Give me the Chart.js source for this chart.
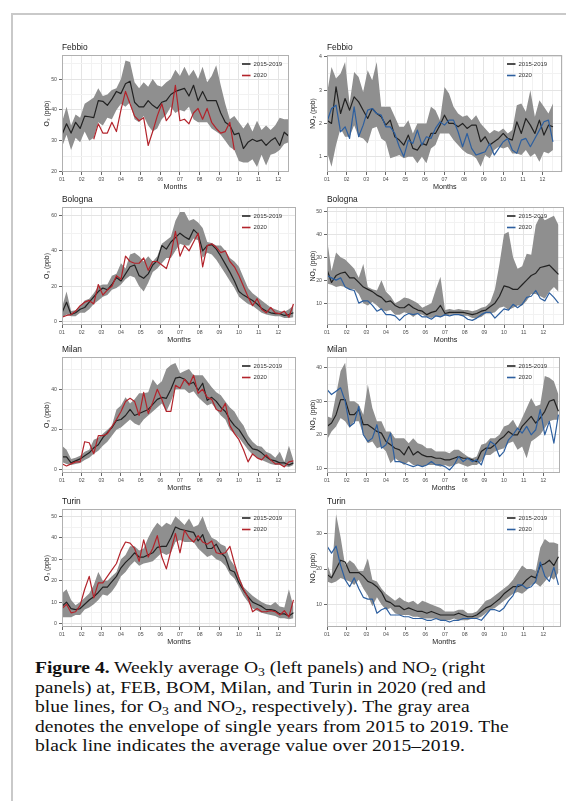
<!DOCTYPE html>
<html><head><meta charset="utf-8">
<script src="https://cdn.jsdelivr.net/npm/chart.js@4.4.0/dist/chart.umd.min.js"></script>
<style>
html,body{margin:0;padding:0;background:#fff;}
body{width:566px;height:802px;position:relative;overflow:hidden;}
.frame{position:absolute;left:11px;top:13px;width:570px;height:786px;border-top:2px solid #c9c9c9;border-left:2px solid #c9c9c9;}
.pan{position:absolute;}
#cap{position:absolute;left:35px;top:658px;font-family:'Liberation Serif','Times New Roman',serif;font-size:17px;line-height:19.5px;color:#111;white-space:nowrap;transform-origin:0 0;transform:scaleX(1.15);}
#cap sub{font-size:0.7em;line-height:0;vertical-align:-0.25em;}
</style></head><body>
<div class="frame"></div>
<div id="cap">
<div><b>Figure 4.</b> Weekly average O<sub>3</sub> (left panels) and NO<sub>2</sub> (right</div>
<div>panels) at, FEB, BOM, Milan, and Turin in 2020 (red and</div>
<div>blue lines, for O<sub>3</sub> and NO<sub>2</sub>, respectively). The gray area</div>
<div>denotes the envelope of single years from 2015 to 2019. The</div>
<div>black line indicates the average value over 2015–2019.</div>
</div>
<script>
// ---------- categories / tick labels ----------
const WEEKS = [1,2,3,4,5,6,7,8,9,10,11,12,13,14,15,16,17,18,19,20,21,22,23,24,25,26,27,28,29,30,31,32,33,34,35,36,37,38,39,40,41,42,43,44,45,46,47,48,49,50,51,52,53];
const MONTH_LABELS = ['01','02','03','04','05','06','07','08','09','10','11','12'];
const SERIES_LABELS = ['2015-2019','2020'];

// ---------- Febbio O3 ----------
const febO3_hi  = [36,41,35,38.5,37.5,42,43,44,47,44.5,45,46.5,47,50,56,55.5,49,47,49,47.5,50,48,47.5,49,50,53,51,54,51,53,50,54,49,51,54.5,48,42,37,38,36,34,36,33,36.5,33.5,35,33.5,35,37.5,37,37];
const febO3_lo  = [28,32,27,31,29.5,33,30,31,36,35,37.5,37,40,42,41,42.5,37,36,38,35,33,34,37,38.5,41,39,40,39.5,41,37,36,36,36,34,33,32,30,28,27,23.5,23,23,24,21.5,25.5,22,25.5,26,27,29,29.5];
const febO3_avg = [32,35.5,32.5,36,34,38,37.8,37.5,43,42.8,41.5,43.5,46,45.3,48.5,49.3,42.5,41,41,43,41.5,40.5,42.5,43,45,46,46.5,47,44.5,48,43,46,43,43,43,39,36,35,32,32.5,27.5,29.5,30.5,29.8,30.3,28.5,30,31,28.5,32.8,31.5];
const febO3_2020 = [null,null,null,null,null,null,null,30.5,35.5,32.5,32.5,36,33,40,46,42,38,36.5,37.5,28.5,33,38,42,36.5,38.5,48,36.5,37,35.5,39,40.5,37,40.5,36,34,32.5,33,36,27,null,null,null,null,null,null,null,null,null,null,null,null];

// ---------- Febbio NO2 ----------
const febNO2_hi  = [2.9,3.7,3.35,3.5,3.85,2.6,3.55,3.4,2.95,3.6,3.3,3.85,2.5,2.5,2.5,2.2,1.9,1.9,2.1,1.7,2.0,2.0,2.0,2.5,2.4,2.1,3.1,2.9,2.5,2.3,2.2,2.25,2.1,2.25,2.0,1.85,1.7,1.8,1.75,1.85,1.7,1.8,2.55,2.6,2.35,3.0,2.2,2.7,2.5,2.3,2.6];
const febNO2_lo  = [1.15,0.7,1.35,1.85,1.6,1.6,1.95,1.6,1.55,1.4,1.85,1.9,1.55,1.45,0.95,1.0,1.05,0.95,1.0,1.0,0.8,1.0,0.8,1.25,1.35,1.7,1.7,1.7,1.5,1.35,1.2,1.1,1.05,0.95,0.7,1.05,0.95,1.2,1.3,1.25,1.3,1.1,1.1,1.05,1.2,1.0,1.1,0.85,1.15,1.1,1.2];
const febNO2_avg = [2.1,2.0,3.1,2.3,2.75,2.4,2.8,2.65,2.4,2.15,2.45,2.3,2.2,1.95,2.1,1.6,1.5,1.35,1.65,1.25,1.2,1.4,1.35,1.7,1.7,1.95,2.25,2.0,2.0,1.9,2.0,1.85,1.95,1.95,1.45,1.6,1.35,1.45,1.55,1.7,1.55,1.5,2.05,1.7,2.15,1.95,1.7,2.1,1.65,1.95,1.9];
const febNO2_2020 = [2.05,2.45,2.55,1.75,1.9,1.55,2.5,1.6,1.95,2.4,2.45,2.3,2.25,1.9,1.9,1.7,1.3,1.0,1.5,1.4,1.8,1.35,1.6,1.55,1.85,2.05,1.95,2.1,2.1,1.75,1.3,1.7,1.25,1.05,1.1,1.15,1.4,1.05,1.25,1.45,1.55,1.2,1.1,1.5,1.55,1.3,1.55,1.8,2.05,2.1,1.45];

// ---------- Bologna O3 ----------
const bolO3_hi  = [8,17,6,6.5,9,12,13,16,20,21,21,26,27,33,30,38,39,37,34,37,34,37,44,46,48,57,62,62,57,58,56,53,45,44.5,43,43,40,36,34,31,25,19,16,14,12,10,8,7,6,5.5,7,9];
const bolO3_lo  = [2,4,3,3,5,5,7,10,12,14,15,18,19,21,24,26,25,20,17,22,28,30,33,36,36,40,44,43,43,47,46,36,39,38,35,31,27,23,19,14,12,10,9,7,5,4,3.5,3,3,2,2,2.5];
const bolO3_avg = [5,11,4,5,7,8,11,14,17,19,18,21,25,23,27,31,32,26,24.5,27,32,34.5,43,41,45,47.5,50,48,46.5,52,49.5,40,43,43.5,41,37,32.5,28,23,17,15,13.5,12,10,7.5,6,5,4.5,4.5,3.5,4,5];
const bolO3_2020 = [2.5,3.5,4,6,9,11,12,10,21,15,18,20,26,24,37,34,33,33,36,29,34,34,32,30,38,51,37,43,40,45,50,31,43,44,42,39,40,34,31,26,20,14,9,13,7,5,8,5,4.5,6,2.5,10];

// ---------- Bologna NO2 ----------
const bolNO2_hi  = [38,24,32,30,29,27,25,21,27,17,16,15.5,20,15,13,10,11,12.5,12,11,10,8,9,10,16,21.5,7,7.5,7,7.5,7,7,6.5,7,8,8.5,10.5,16,27,40,41,30,25,26,31.5,31,44,48,46,47,48,44];
const bolNO2_lo  = [18.5,18,17,17.5,17,16,16,14,10,9,10.5,9,7,6.5,7,5,5,6,5.5,4,5.5,5,4,3.5,4.5,4,4.5,5,5,5,4.5,4.5,3.5,3.5,4,5.5,5.5,6,8,8.5,7,8,9,9,11,14,14,13,12,15,17,15];
const bolNO2_avg = [24.5,19,22,23,23.5,21,21,19,17,16,15,13.5,12.5,10.5,11,9,8,8,9.5,8,7,6.5,5,6,6.5,9,5.5,6,6,6,6,5.5,5,5.5,6.5,7,8.5,10,13,17.5,17,16,16,18,20,22,23,25.5,26,26.5,24.5,22.5];
const bolNO2_2020 = [22,21,20,21,17,16,15.5,10,11,11,9,6.5,7.5,5,5,4.5,2.5,4.5,5.5,5,5.5,4,4,3,4.5,4,5,4.5,5,5,4.5,3,2.5,3.5,5,6,6,3.5,5.5,7.5,7,9.5,8,9.5,12.5,13,15.5,12,11,14.5,12.5,10];

// ---------- Milan O3 ----------
const milO3_hi  = [12,10,5.5,6,7,9,10,15,16,18,20,22,30,32,36,33,35,38,38,38.5,45,42,44,50,52,53,48,49,50,47,47,47,44,41,38.5,37,34,31,29,25,22,17,14,12,11.5,9,8,6,9,4,12,5];
const milO3_lo  = [4,3,2.5,3,3.5,5,6,8,9.5,12,14,17,20,21,23,25,23,22,25,27,29,31,33,29,34,40,40,40,38,39,36,34,32,33,30,27,25,20,18,16,13,10,7.5,6,5,4,3,2.5,2.5,2,1.5,2.5];
const milO3_avg = [6.5,6.5,3.5,4.5,5.5,7,8.5,11,12.5,16,18.5,21,24.5,25,27,30,27,28,29,30,32.5,35,36,35.5,40,45.5,46,45,42.5,43.5,39.5,43,34.5,36,34,31,29,25,22,20,16.5,13,10.5,10,8.5,6.5,5,4.5,3.5,3.5,2.5,3.5];
const milO3_2020 = [3,2,3,4,4,14,13.5,8,17,17,18,21.5,25,29,34,35.5,34,27,38.5,28,33.5,40,35,29,29,42,40.5,45,42,47,38,40,36,35,30,29,33,22,18,15,10,4,8,6,5,7.5,5,3,3,1.5,4,4.5];

// ---------- Milan NO2 ----------
const milNO2_hi  = [25.5,25,32,39,41.5,30,30,29,26,35,28,24,24,21,21,19,19,19,17.5,19,17.5,17,16,16,15,15,15,14.5,15.5,15.5,14.5,13.5,13,13.5,17,17.5,19,19,20,22.5,23,24.5,22,25,28,31,28.5,29,37.5,37,36,32];
const milNO2_lo  = [18.5,21,22.5,25,24,22,24,24,20,17.5,18,16,16.5,15,11.5,13,12,11,12,11,11,10.5,11,11,11,10.5,11,10.5,11,11.5,11,10.5,11,11,12,14,14,15,15.5,16,17.5,18,15.5,16.5,13,18,19,20,22,24,24.5,24.5];
const milNO2_avg = [22.5,23.5,26,30.5,30.5,26,26,27.5,23,23,22,21,20.5,18,17,16,15.5,14,16.5,14,15,14,13.5,13.5,13,13,12.5,12.5,13,13.5,13,13,12.5,12,15,16,16,17,18.5,19.5,21,20,20,22.5,24,25.5,23.5,25,27,30,30.5,27];
const milNO2_2020 = [33.5,32,33,34,30,22.5,23.5,28.5,20,18,19,23,16,17,20.5,12,12,11.5,11,10.5,11,10.5,11,12,11,11,10.5,9.5,11,13.5,12,13,12,12.5,11,15,18,17,13.5,15,18.5,20,22,20.5,22.5,20,21.5,27.5,20,24,17.5,26];

// ---------- Turin O3 ----------
const turO3_hi  = [14,16,11,8.5,10,12,14,18,24,20,20,22,24,30,32,36,36,34,35,40,44,47,45,47,46,50,48,46,49,45,46,50,44,40,39,37,36,30,27,22,17,15,13,11.5,10,9,8.5,10,8,7.5,16,8];
const turO3_lo  = [3,3,3,4,4,6.5,7.5,9,11,13.5,13,15,18,22,24,27,29,27,28,28.5,29,31,33,32,33,38,39,38,38,38,35,33,31,32,30,29,27,23,21,17,13,10,7,6,5,4.5,4,3.5,2.5,2.5,2,2.5];
const turO3_avg = [8,10,7,6.5,7,9,11,12.5,14.5,17,17,19.5,22,26,28.5,30.5,33,31,31,32,33,35.5,36,36,40,45,44,43.5,43,42.5,38.5,41.5,35,35,37,33,31,25,24,19,15.5,12.5,10,9,8,6.5,6.5,6,4.5,4.5,3.5,5];
const turO3_2020 = [7,9,5,5.5,8.5,16,22,12,19,19,22,25,28,34,38,37.5,35,29,39,31,35,41,31,25.5,34,42,33,43.5,40,38,41,38,37,38.5,33,32.5,33,36,28,21,16,12,5.5,7,5.5,5.5,6,5.5,4,6,3,11];

// ---------- Turin NO2 ----------
const turNO2_hi  = [21.5,18,35.5,29,21,22.5,21.5,19.5,19.5,23,17,16.5,14.5,13,12,11,12,11,10.5,11,10,11,10.5,10,9.5,9,8,8,8,8.5,8.5,7.5,7.5,8,9.5,11,11.5,12.5,13.5,14.5,15.5,17,19,21,20,20,19.5,26,28.5,27.5,27.5,27];
const turNO2_lo  = [16.5,16,16.5,17.5,17,16.5,15.5,17,14.5,12.5,9.5,12,10,8.5,9,7.5,7,7,7,6.5,6.5,6,6,6,6,5.5,5.5,5.5,6,5.5,5.5,5.5,6,6,6.5,7.5,8.5,9,10,11,12,13,13.5,13,14,15.5,16,15,16.5,18,17,19];
const turNO2_avg = [18.5,17.5,20,22.5,22,19,19,19,18,16.5,16,15,13.5,11,10.5,9.5,9.5,8.5,9,8.5,8,8,7.5,8,7.5,7,7,7,7,7.5,7,6.5,6.5,7,8,9,9.5,10.5,11.5,13,14,15,15,15.5,17,18,17.5,21,21.5,22.5,21,23.5];
const turNO2_2020 = [26.5,24.5,26.5,21,17,15,17.5,14.5,12,11.5,11.5,7.5,8.5,9,7,7,7,6.5,6.5,6,6,6,5.5,5.5,6,5.5,5.5,5,5.5,5.5,6,6,6,6,5.5,7,8.5,8.5,8,9,11,12.5,15.5,15.5,14.5,15,16.5,22,18,16.5,20.5,15.5];

// ---------- y-axis major tick values ----------
const febO3_yTicks = [20,30,40,50];
const febNO2_yTicks = [1,2,3,4];
const bolO3_yTicks = [0,20,40,60];
const bolNO2_yTicks = [10,20,30,40,50];
const milO3_yTicks = [0,20,40];
const milNO2_yTicks = [10,20,30,40];
const turO3_yTicks = [0,10,20,30,40,50];
const turNO2_yTicks = [10,20,30];

// ---------- styling / layout ----------
const FONT = "'Liberation Sans', Arial, Helvetica, sans-serif";
const RED = '#b3232b', BLUE = '#2d5f9f', BLACK = '#222222', GRAY = '#8f8f8f';
const PX_PER_MONTH = 19.64;
const TOP_PAD = 14, X_AXIS_H = 19;
const COLS = [{left:43, axisW:19}, {left:309, axisW:18}];
const ROWS = [{top:55,bottom:172},{top:207,bottom:325},{top:357,bottom:473},{top:509,bottom:627}];
const O3_TITLE = 'O\u2083 (ppb)', NO2_TITLE = 'NO\u2082 (ppb)';

const PANELS = [
  {title:'Febbio', col:0,row:0, yTitle:O3_TITLE,  color:RED,  hi:febO3_hi, lo:febO3_lo, avg:febO3_avg, y20:febO3_2020, yMin:19.9, yMax:57.8, yMajor:febO3_yTicks, xMax:12.54},
  {title:'Febbio', col:1,row:0, yTitle:NO2_TITLE, color:BLUE, hi:febNO2_hi, lo:febNO2_lo, avg:febNO2_avg, y20:febNO2_2020, yMin:0.54, yMax:4.06, yMajor:febNO2_yTicks, xMax:13.02},
  {title:'Bologna',col:0,row:1, yTitle:O3_TITLE,  color:RED,  hi:bolO3_hi, lo:bolO3_lo, avg:bolO3_avg, y20:bolO3_2020, yMin:-1.9, yMax:64.8, yMajor:bolO3_yTicks, xMax:12.9},
  {title:'Bologna',col:1,row:1, yTitle:NO2_TITLE, color:BLUE, hi:bolNO2_hi, lo:bolNO2_lo, avg:bolNO2_avg, y20:bolNO2_2020, yMin:0.5, yMax:51.8, yMajor:bolNO2_yTicks, xMax:13.05},
  {title:'Milan',  col:0,row:2, yTitle:O3_TITLE,  color:RED,  hi:milO3_hi, lo:milO3_lo, avg:milO3_avg, y20:milO3_2020, yMin:-1.5, yMax:56, yMajor:milO3_yTicks, xMax:12.9},
  {title:'Milan',  col:1,row:2, yTitle:NO2_TITLE, color:BLUE, hi:milNO2_hi, lo:milNO2_lo, avg:milNO2_avg, y20:milNO2_2020, yMin:8.6, yMax:43.2, yMajor:milNO2_yTicks, xMax:12.85},
  {title:'Turin',  col:0,row:3, yTitle:O3_TITLE,  color:RED,  hi:turO3_hi, lo:turO3_lo, avg:turO3_avg, y20:turO3_2020, yMin:-1.6, yMax:53.4, yMajor:turO3_yTicks, xMax:12.9},
  {title:'Turin',  col:1,row:3, yTitle:NO2_TITLE, color:BLUE, hi:turNO2_hi, lo:turNO2_lo, avg:turNO2_avg, y20:turNO2_2020, yMin:3.6, yMax:37, yMajor:turNO2_yTicks, xMax:12.9}
];

Chart.defaults.font.family = FONT;

function monthPos(week){ return 1 + (week - 1) * 12 / 52; }
function series(vals){ return vals.map((v,i) => ({x: monthPos(WEEKS[i]), y: v})); }

const panelDecor = {
  id: 'panelDecor',
  afterDatasetsDraw(chart) {
    const {ctx, chartArea: a} = chart;
    ctx.save();
    ctx.strokeStyle = '#b0b0b0'; ctx.lineWidth = 1;
    ctx.strokeRect(Math.round(a.left)+0.5, Math.round(a.top)+0.5, Math.round(a.right)-Math.round(a.left)-1, Math.round(a.bottom)-Math.round(a.top)-1);
    ctx.restore();
  },
  afterDraw(chart, args, o) {
    const {ctx, chartArea: a} = chart;
    ctx.save();
    ctx.textAlign = 'left'; ctx.textBaseline = 'middle';
    ctx.font = '8.4px ' + FONT; ctx.fillStyle = '#1a1a1a';
    ctx.fillText(o.title, a.left, a.top - 7.5);
    const items = chart.data.datasets.filter(d => d.legendRank !== undefined).sort((p,q) => p.legendRank - q.legendRank);
    items.forEach((d, i) => {
      const y = a.top + 9 + i * 11.5, x = a.left + 180;
      ctx.strokeStyle = d.borderColor; ctx.lineWidth = 1.6;
      ctx.beginPath(); ctx.moveTo(x, y); ctx.lineTo(x + 8.5, y); ctx.stroke();
      ctx.font = '6px ' + FONT; ctx.fillStyle = '#333';
      ctx.fillText(d.label, x + 11.5, y);
    });
    ctx.restore();
  }
};

function buildPanel(p) {
  const col = COLS[p.col], row = ROWS[p.row];
  const width = Math.round(col.axisW + (p.xMax - 1) * PX_PER_MONTH);
  const height = TOP_PAD + (row.bottom - row.top) + X_AXIS_H;
  const div = document.createElement('div');
  div.className = 'pan';
  div.style.left = col.left + 'px';
  div.style.top = (row.top - TOP_PAD) + 'px';
  div.style.width = width + 'px';
  div.style.height = height + 'px';
  const cv = document.createElement('canvas');
  div.appendChild(cv);
  document.body.appendChild(div);

  const step = p.yMajor[1] - p.yMajor[0];
  const yTickVals = [];
  for (let v = p.yMajor[0] - 2 * step; v <= p.yMax + 1e-9; v += step / 2) if (v >= p.yMin) yTickVals.push(+v.toFixed(6));
  const xTickVals = [];
  for (let v = 1; v <= p.xMax + 1e-9; v += 0.5) xTickVals.push(v);
  const isYMajor = v => p.yMajor.includes(v);
  const isXMajor = v => Number.isInteger(v) && v <= 12;

  new Chart(cv, {
    type: 'line',
    data: { datasets: [
      {label: SERIES_LABELS[1], data: series(p.y20), borderColor: p.color, borderWidth: 1.2, pointRadius: 0, fill: false, borderJoinStyle: 'round', legendRank: 1},
      {label: SERIES_LABELS[0], data: series(p.avg), borderColor: BLACK, borderWidth: 1.2, pointRadius: 0, fill: false, borderJoinStyle: 'round', legendRank: 0},
      {label: 'max', data: series(p.hi), borderColor: 'rgba(0,0,0,0)', borderWidth: 0, pointRadius: 0, fill: '+1', backgroundColor: GRAY},
      {label: 'min', data: series(p.lo), borderColor: 'rgba(0,0,0,0)', borderWidth: 0, pointRadius: 0, fill: false}
    ]},
    options: {
      responsive: true, maintainAspectRatio: false, animation: false,
      layout: {padding: {top: TOP_PAD, left: 0, right: 0, bottom: 0}},
      plugins: {legend: {display: false}, tooltip: {enabled: false}, panelDecor: {title: p.title}},
      scales: {
        x: {
          type: 'linear', min: 1, max: p.xMax,
          afterBuildTicks: s => { s.ticks = xTickVals.map(v => ({value: v})); },
          afterFit: s => { s.height = X_AXIS_H; },
          ticks: {autoSkip: false, maxRotation: 0, minRotation: 0, padding: 1, color: '#4d4d4d', font: {size: 5.2},
                  callback: v => isXMajor(v) ? MONTH_LABELS[v - 1] : ''},
          grid: {lineWidth: 1, color: c => (c.tick && isXMajor(c.tick.value)) ? '#e4e4e4' : '#f2f2f2',
                 tickColor: c => (c.tick && isXMajor(c.tick.value)) ? '#666' : 'rgba(0,0,0,0)', tickLength: 3, drawTicks: true},
          border: {display: false},
          title: {display: true, text: 'Months', color: '#222', font: {size: 7.2}, padding: 0}
        },
        y: {
          type: 'linear', min: p.yMin, max: p.yMax,
          afterBuildTicks: s => { s.ticks = yTickVals.map(v => ({value: v})); },
          afterFit: s => { s.width = col.axisW; },
          ticks: {autoSkip: false, padding: 2, color: '#4d4d4d', font: {size: 5.2},
                  callback: v => isYMajor(v) ? String(v) : ''},
          grid: {lineWidth: 1, color: c => (c.tick && isYMajor(c.tick.value)) ? '#e4e4e4' : '#f2f2f2',
                 tickColor: c => (c.tick && isYMajor(c.tick.value)) ? '#666' : 'rgba(0,0,0,0)', tickLength: 3, drawTicks: true},
          border: {display: false},
          title: {display: true, text: p.yTitle, color: '#222', font: {size: 6.8}, padding: 0}
        }
      }
    },
    plugins: [panelDecor]
  });
}

PANELS.forEach(buildPanel);
</script>
</body></html>
